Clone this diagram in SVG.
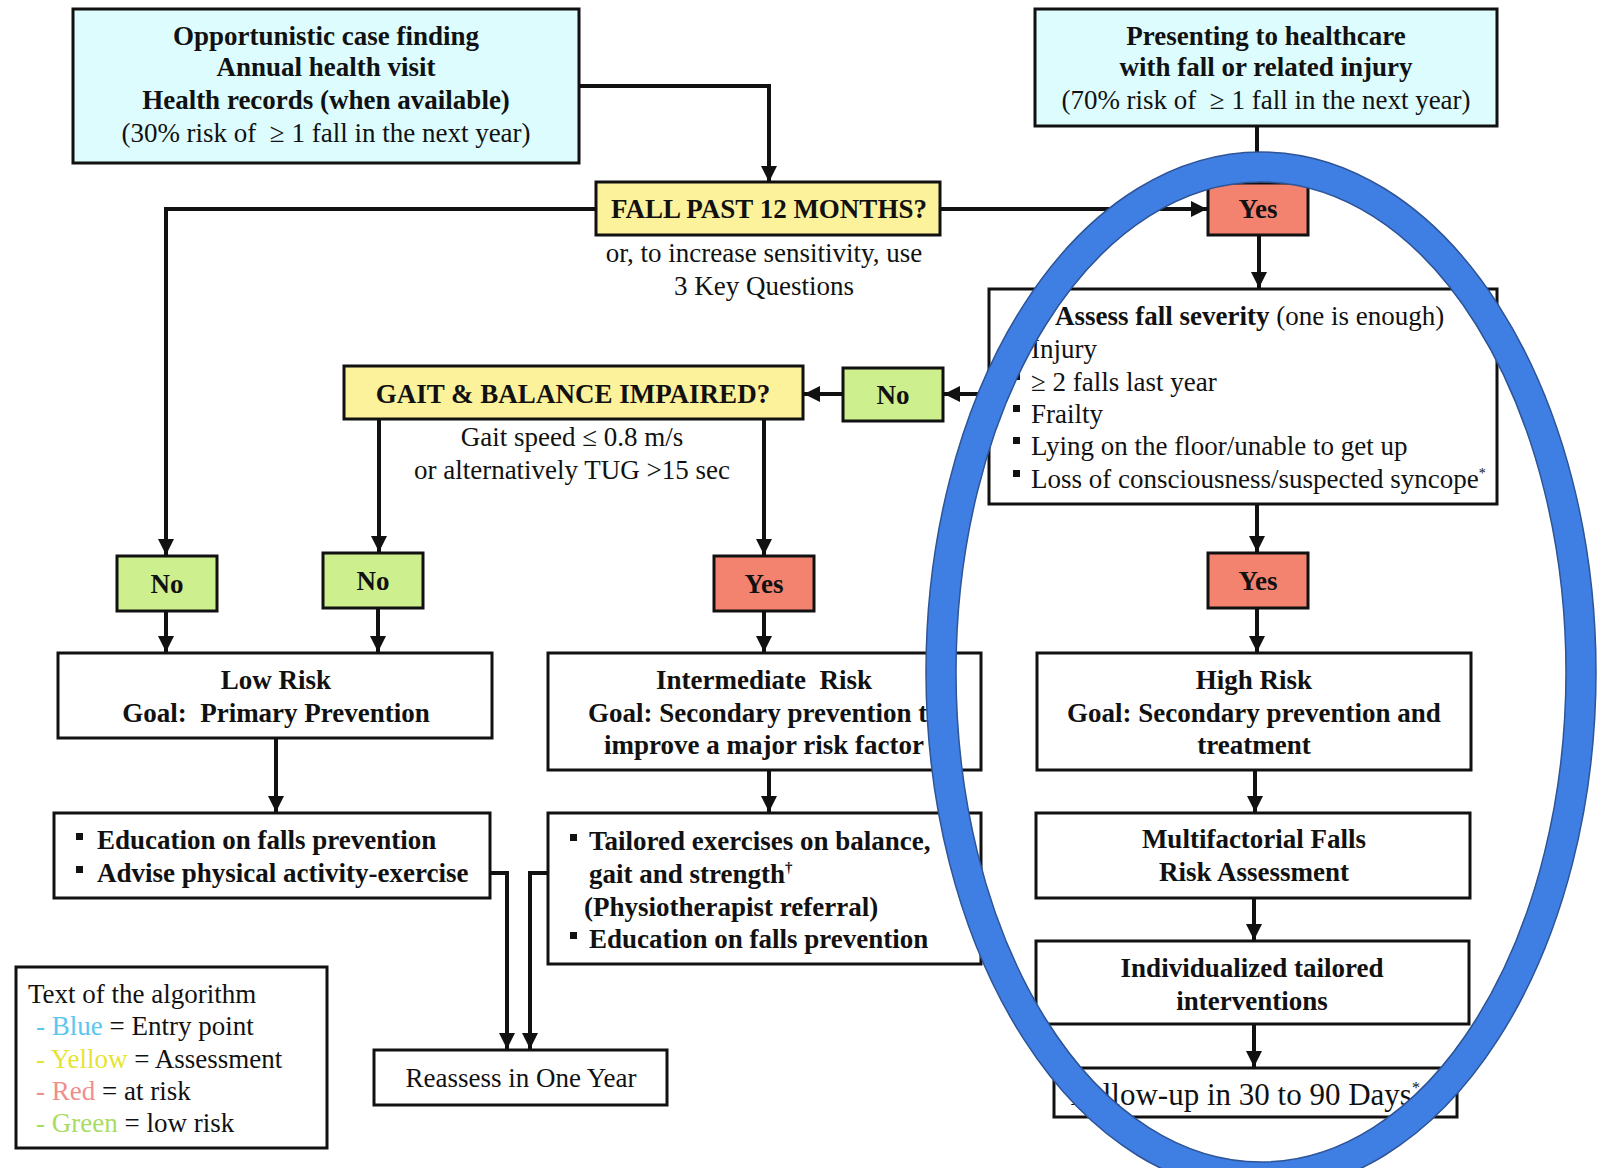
<svg xmlns="http://www.w3.org/2000/svg" width="1601" height="1168" viewBox="0 0 1601 1168">
<style>
  .box{stroke:#111;stroke-width:3;fill:#fff}
  .cyan{fill:#dcfcfe}
  .yel{fill:#fdf29c}
  .grn{fill:#cdef8e}
  .red{fill:#f3836f}
  text{font-family:"Liberation Serif","Times New Roman",serif;font-size:27px;fill:#111}
  .b{font-weight:bold}
  .c{text-anchor:middle}
  .big{font-size:31px}
  .conn{fill:none;stroke:#111;stroke-width:4}
  .bul{fill:#111}
</style>
<defs>
  <marker id="ah" markerWidth="18" markerHeight="18" refX="16" refY="8" orient="auto" markerUnits="userSpaceOnUse">
    <path d="M0,0 L16,8 L0,16 z" fill="#111"/>
  </marker>
</defs>
<rect width="1601" height="1168" fill="#fff"/>

<g id="connectors">
  <path class="conn" d="M579,86 H769 V182" marker-end="url(#ah)"/>
  <path class="conn" d="M596,209 H166 V555" marker-end="url(#ah)"/>
  <path class="conn" d="M940,209 H1207" marker-end="url(#ah)"/>
  <path class="conn" d="M1257,126 V183" marker-end="url(#ah)"/>
  <path class="conn" d="M1259,235 V288" marker-end="url(#ah)"/>
  <path class="conn" d="M989,394 H944" marker-end="url(#ah)"/>
  <path class="conn" d="M843,394 H804" marker-end="url(#ah)"/>
  <path class="conn" d="M379,419 V552" marker-end="url(#ah)"/>
  <path class="conn" d="M764,419 V555" marker-end="url(#ah)"/>
  <path class="conn" d="M1257,504 V552" marker-end="url(#ah)"/>
  <path class="conn" d="M166,611 V652" marker-end="url(#ah)"/>
  <path class="conn" d="M378,608 V652" marker-end="url(#ah)"/>
  <path class="conn" d="M764,611 V652" marker-end="url(#ah)"/>
  <path class="conn" d="M1257,608 V652" marker-end="url(#ah)"/>
  <path class="conn" d="M276,738 V812" marker-end="url(#ah)"/>
  <path class="conn" d="M769,770 V812" marker-end="url(#ah)"/>
  <path class="conn" d="M1255,770 V812" marker-end="url(#ah)"/>
  <path class="conn" d="M1254,898 V940" marker-end="url(#ah)"/>
  <path class="conn" d="M1254,1024 V1067" marker-end="url(#ah)"/>
  <path class="conn" d="M490,873 H507 V1049" marker-end="url(#ah)"/>
  <path class="conn" d="M548,873 H530 V1049" marker-end="url(#ah)"/>
</g>

<g id="entry-opportunistic">
  <rect class="box cyan" x="73" y="9" width="506" height="154"/>
  <text class="b c" x="326" y="45">Opportunistic case finding</text>
  <text class="b c" x="326" y="76">Annual health visit</text>
  <text class="b c" x="326" y="109">Health records (when available)</text>
  <text class="c" x="326" y="142" xml:space="preserve">(30% risk of  ≥ 1 fall in the next year)</text>
</g>

<g id="entry-presenting">
  <rect class="box cyan" x="1035" y="9" width="462" height="117"/>
  <text class="b c" x="1266" y="45">Presenting to healthcare</text>
  <text class="b c" x="1266" y="76">with fall or related injury</text>
  <text class="c" x="1266" y="109" xml:space="preserve">(70% risk of  ≥ 1 fall in the next year)</text>
</g>

<g id="fall-past">
  <rect class="box yel" x="596" y="182" width="344" height="53"/>
  <text class="b c" x="769" y="218">FALL PAST 12 MONTHS?</text>
  <text class="c" x="764" y="262">or, to increase sensitivity, use</text>
  <text class="c" x="764" y="295">3 Key Questions</text>
</g>

<g id="yes-1">
  <rect class="box red" x="1208" y="183" width="100" height="52"/>
  <text class="b c" x="1258" y="218">Yes</text>
</g>

<g id="assess-severity">
  <rect class="box" x="989" y="289" width="508" height="215"/>
  <text x="1055" y="325"><tspan class="b">Assess fall severity</tspan> (one is enough)</text>
  <rect class="bul" x="1013" y="340" width="7" height="7"/>
  <text x="1031" y="358">Injury</text>
  <rect class="bul" x="1013" y="373" width="7" height="7"/>
  <text x="1031" y="391">≥ 2 falls last year</text>
  <rect class="bul" x="1013" y="405" width="7" height="7"/>
  <text x="1031" y="423">Frailty</text>
  <rect class="bul" x="1013" y="437" width="7" height="7"/>
  <text x="1031" y="455">Lying on the floor/unable to get up</text>
  <rect class="bul" x="1013" y="470" width="7" height="7"/>
  <text x="1031" y="488">Loss of consciousness/suspected syncope<tspan font-size="14" dy="-10">*</tspan></text>
</g>

<g id="no-gait">
  <rect class="box grn" x="843" y="368" width="100" height="53"/>
  <text class="b c" x="893" y="404">No</text>
</g>

<g id="gait-balance">
  <rect class="box yel" x="344" y="366" width="459" height="53"/>
  <text class="b c" x="573" y="403">GAIT &amp; BALANCE IMPAIRED?</text>
  <text class="c" x="572" y="446">Gait speed ≤ 0.8 m/s</text>
  <text class="c" x="572" y="479">or alternatively TUG &gt;15 sec</text>
</g>

<g id="no-1">
  <rect class="box grn" x="117" y="556" width="100" height="55"/>
  <text class="b c" x="167" y="593">No</text>
</g>
<g id="no-2">
  <rect class="box grn" x="323" y="553" width="100" height="55"/>
  <text class="b c" x="373" y="590">No</text>
</g>
<g id="yes-mid">
  <rect class="box red" x="714" y="556" width="100" height="55"/>
  <text class="b c" x="764" y="593">Yes</text>
</g>
<g id="yes-2">
  <rect class="box red" x="1208" y="553" width="100" height="55"/>
  <text class="b c" x="1258" y="590">Yes</text>
</g>

<g id="low-risk">
  <rect class="box" x="58" y="653" width="434" height="85"/>
  <text class="b c" x="276" y="689">Low Risk</text>
  <text class="b c" x="276" y="722" xml:space="preserve">Goal:  Primary Prevention</text>
</g>

<g id="intermediate-risk">
  <rect class="box" x="548" y="653" width="433" height="117"/>
  <text class="b c" x="764" y="689" xml:space="preserve">Intermediate  Risk</text>
  <text class="b" x="588" y="722">Goal: Secondary prevention to</text>
  <text class="b c" x="764" y="754">improve a major risk factor</text>
</g>

<g id="high-risk">
  <rect class="box" x="1037" y="653" width="434" height="117"/>
  <text class="b c" x="1254" y="689">High Risk</text>
  <text class="b c" x="1254" y="722">Goal: Secondary prevention and</text>
  <text class="b c" x="1254" y="754">treatment</text>
</g>

<g id="education-low">
  <rect class="box" x="54" y="813" width="436" height="85"/>
  <rect class="bul" x="76" y="833" width="7" height="7"/>
  <text class="b" x="97" y="849">Education on falls prevention</text>
  <rect class="bul" x="76" y="866" width="7" height="7"/>
  <text class="b" x="97" y="882">Advise physical activity-exercise</text>
</g>

<g id="tailored-exercises">
  <rect class="box" x="548" y="813" width="433" height="151"/>
  <rect class="bul" x="570" y="834" width="7" height="7"/>
  <text class="b" x="589" y="850">Tailored exercises on balance,</text>
  <text class="b" x="589" y="883">gait and strength<tspan font-size="15" dy="-11">†</tspan></text>
  <text class="b" x="584" y="916">(Physiotherapist referral)</text>
  <rect class="bul" x="570" y="932" width="7" height="7"/>
  <text class="b" x="589" y="948">Education on falls prevention</text>
</g>

<g id="multifactorial">
  <rect class="box" x="1036" y="813" width="434" height="85"/>
  <text class="b c" x="1254" y="848">Multifactorial Falls</text>
  <text class="b c" x="1254" y="881">Risk Assessment</text>
</g>

<g id="individualized">
  <rect class="box" x="1036" y="941" width="433" height="83"/>
  <text class="b c" x="1252" y="977">Individualized tailored</text>
  <text class="b c" x="1252" y="1010">interventions</text>
</g>

<g id="follow-up">
  <rect class="box" x="1054" y="1068" width="403" height="49"/>
  <text class="big" x="1070" y="1105">Follow-up in 30 to 90 Days<tspan font-size="16" dy="-12">*</tspan></text>
</g>

<g id="reassess">
  <rect class="box" x="374" y="1050" width="293" height="55"/>
  <text class="c" x="521" y="1087">Reassess in One Year</text>
</g>

<g id="legend">
  <rect class="box" x="16" y="967" width="311" height="181"/>
  <text x="28" y="1003">Text of the algorithm</text>
  <text x="36" y="1035"><tspan fill="#5bc6ee">-  Blue</tspan> = Entry point</text>
  <text x="36" y="1068"><tspan fill="#e6e432">-  Yellow</tspan> = Assessment</text>
  <text x="36" y="1100"><tspan fill="#ef8e8e">-  Red</tspan> = at risk</text>
  <text x="36" y="1132"><tspan fill="#a9dc62">-  Green</tspan> = low risk</text>
</g>

<g id="highlight-ellipse">
  <ellipse cx="1261" cy="672" rx="320" ry="505" fill="none" stroke="#3f7fe4" stroke-width="30"/>
  <ellipse cx="1261" cy="672" rx="335" ry="520" fill="none" stroke="#2f5597" stroke-width="1.5"/>
  <ellipse cx="1261" cy="672" rx="305" ry="490" fill="none" stroke="#2f5597" stroke-width="1.5"/>
</g>
</svg>
